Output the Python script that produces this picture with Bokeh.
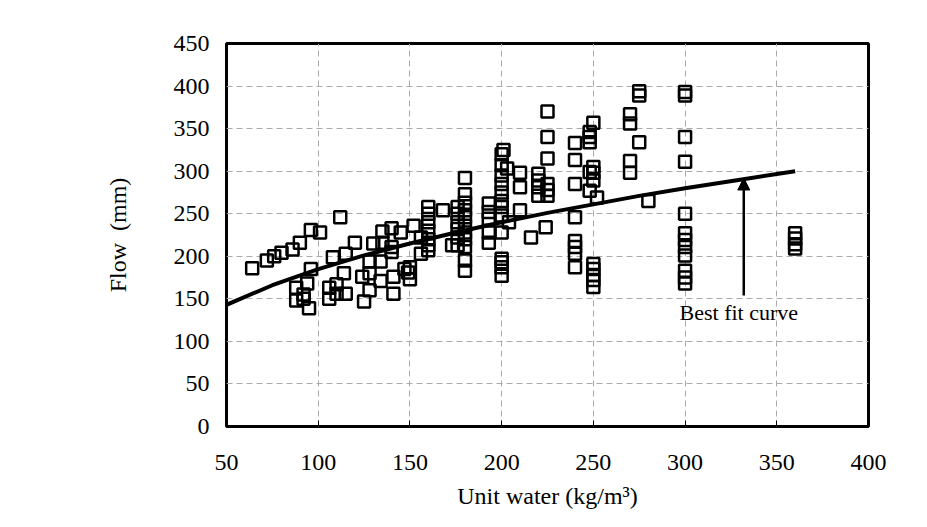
from bokeh.plotting import figure
from bokeh.models import Range1d, FixedTicker, Arrow, NormalHead, Label
from bokeh.embed import file_html
from bokeh.resources import INLINE

# measured points (unit water kg/m3, flow mm)
unit_water = [64, 72, 76, 80, 86, 90, 96, 101, 112,
              96, 88, 94, 88, 92, 95, 92,
              108, 106, 106, 110, 110, 115, 114, 115, 120,
              124, 125, 128, 128, 128, 130, 134, 134, 135, 135, 140, 140, 140, 141, 141,
              145, 147, 149, 150, 150, 152, 156, 156,
              160, 160, 160, 160, 160, 160, 160, 168,
              176, 176, 176, 176, 176, 176, 173,
              180, 180, 180, 180, 180, 180, 180, 180, 180, 180, 180,
              193, 193, 193, 193, 193,
              200, 200, 200, 200, 200, 200, 200, 200, 200, 200, 200, 200, 200, 201, 203, 204,
              210, 210, 210, 216,
              220, 220, 220, 220,
              225, 225, 225, 225, 225, 225, 224,
              240, 240, 240, 240, 240, 240, 240, 240,
              248, 248, 248, 250, 248, 250, 250, 250, 248, 252, 250, 250, 250, 250, 250,
              270, 270, 270, 270,
              275, 275, 275, 280,
              300, 300, 300, 300, 300, 300, 300, 300, 300, 300, 300, 300,
              360, 360, 360, 360]
flow = [186, 195, 200, 204, 208, 216, 231, 228, 246,
        185, 163, 168, 148, 150, 139, 155,
        199, 163, 150, 167, 156, 156, 180, 203, 216,
        176, 147, 180, 160, 194, 215, 194, 171, 229, 216, 233, 211, 205, 176, 156,
        228, 185, 181, 173, 187, 236, 203, 222,
        258, 250, 240, 230, 220, 207, 213, 254,
        258, 250, 240, 232, 222, 213, 213,
        292, 273, 263, 254, 246, 236, 228, 220, 211, 195, 183,
        262, 252, 244, 228, 216,
        307, 295, 285, 275, 265, 258, 248, 228, 197, 187, 177, 193, 320, 325, 303, 240,
        298, 281, 254, 222,
        297, 289, 281, 271,
        370, 340, 315, 285, 278, 271, 234,
        333, 313, 285, 246, 218, 211, 203, 187,
        346, 340, 334, 357, 299, 305, 298, 289, 277, 269, 191, 185, 178, 172, 164,
        367, 356, 312, 298,
        394, 389, 334, 265,
        393, 389, 340, 311, 250, 227, 219, 211, 201, 183, 175, 168,
        227, 221, 214, 209]

# best fit curve
fit_x = [50, 75, 100, 125, 150, 175, 200, 225, 250, 275, 300, 330, 360]
fit_y = [143, 166, 185, 201, 215, 228, 240, 251, 261, 271, 280, 290, 300]

x_ticks = [50, 100, 150, 200, 250, 300, 350, 400]
y_ticks = [0, 50, 100, 150, 200, 250, 300, 350, 400, 450]

W, H = 911, 511
p = figure(width=W, height=H, output_backend="svg", toolbar_location=None,
           x_range=Range1d(50, 400), y_range=Range1d(0, 450),
           min_border_left=226, min_border_right=43, min_border_top=43,
           min_border_bottom=85)

p.outline_line_color = "black"
p.outline_line_width = 3
p.background_fill_color = "white"
p.border_fill_color = "white"

for g in (p.xgrid, p.ygrid):
    g.grid_line_color = "#aaaaaa"
    g.grid_line_dash = "6 4"
    g.grid_line_width = 1

p.xaxis.ticker = FixedTicker(ticks=x_ticks)
p.yaxis.ticker = FixedTicker(ticks=y_ticks)

font = "Liberation Serif"
for ax in (p.xaxis, p.yaxis):
    ax.axis_line_color = None
    ax.minor_tick_line_color = None
    ax.major_label_text_font = font
    ax.major_label_text_font_size = "24px"
    ax.major_label_text_color = "black"
    ax.axis_label_text_font = font
    ax.axis_label_text_font_size = "24px"
    ax.axis_label_text_font_style = "normal"
    ax.axis_label_text_color = "black"

p.xaxis.major_tick_in = 6
p.xaxis.major_tick_out = 0
p.xaxis.major_tick_line_color = "black"
p.xaxis.major_tick_line_width = 1
p.xaxis.major_label_standoff = 28
p.xaxis.axis_label = "Unit water (kg/m³)"
p.xaxis.axis_label_standoff = 10

p.yaxis.major_tick_in = 0
p.yaxis.major_tick_out = 0
p.yaxis.major_label_standoff = 17
p.yaxis.axis_label = "Flow\u00a0\u00a0(mm)"
p.yaxis.axis_label_standoff = 40

p.scatter(unit_water, flow, marker="square", size=12, fill_color=None,
          line_color="black", line_width=2.5)

p.line(fit_x, fit_y, line_color="black", line_width=4)

p.add_layout(Arrow(end=NormalHead(size=12, fill_color="black", line_color="black"),
                   x_start=332, y_start=154, x_end=332, y_end=292,
                   line_color="black", line_width=2.5))

p.add_layout(Label(x=297, y=134, text="Best fit curve", text_font=font,
                   text_font_size="22px", text_color="black",
                   text_baseline="middle"))

open("out.html", "w").write(file_html(p, INLINE))
